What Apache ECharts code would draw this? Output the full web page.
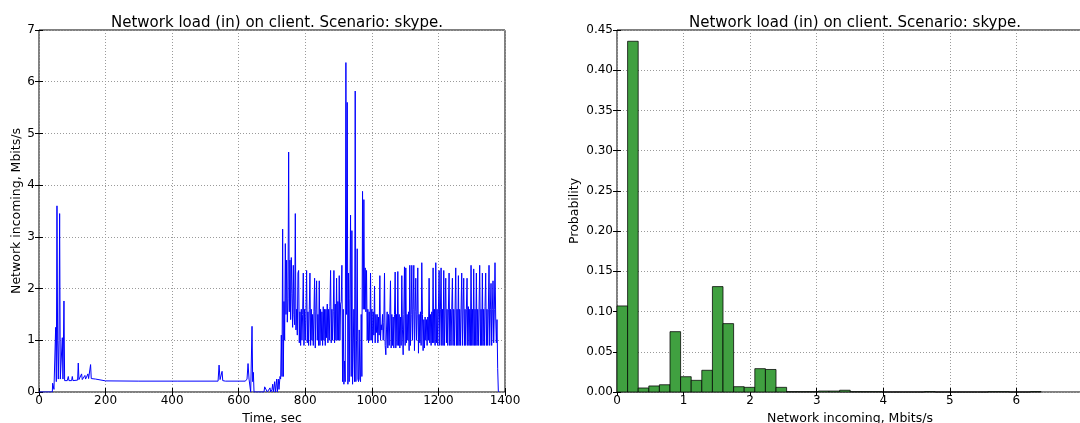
<!DOCTYPE html>
<html>
<head>
<meta charset="utf-8">
<script src="https://cdn.jsdelivr.net/npm/echarts@6/dist/echarts.min.js"></script>
<style>
html,body{margin:0;padding:0;background:#fff;}
#chart{width:1080px;height:423px;}
</style>
</head>
<body>
<div id="chart"></div>
<script>
// ---------- DATA ----------
const chartTitle = 'Network load (in) on client. Scenario: skype.';

// Time series, early (irregular) samples: [sec, Mbits/s]
const earlySamples = [
  [0,0],[40,0],[41,0.17],[44,0.17],[45,0.05],[49,0.05],[50,1.25],[52,0.2],[54,3.6],[56,1.0],
  [58,0.25],[60,1.0],[62,3.45],[64,0.25],[66,0.22],[68,0.22],[70,1.05],[72,0.25],[75,1.76],[77,0.22],
  [85,0.22],[88,0.3],[90,0.22],[98,0.22],[100,0.3],[102,0.22],[116,0.23],[118,0.56],[120,0.24],[126,0.24],
  [128,0.35],[130,0.24],[136,0.25],[138,0.32],[140,0.25],[145,0.26],[147,0.35],[149,0.26],[153,0.27],[155,0.53],
  [157,0.26],[170,0.25],[200,0.215],[300,0.21],[415,0.21],[416,0.23],[417,0.21],[538,0.21],[541,0.52],[544,0.24],
  [548,0.22],[550,0.4],[552,0.22],[560,0.21],[620,0.21],[625,0.25],[628,0.55],[631,0.25],[634,0.22],[636,0.0],
  [638,0.0],[640,1.27],[642,0.2],[644,0.38],[646,0.0],[676,0.0],[678,0.1],[683,0.12],[686,0.0],[692,0.0],
  [694,0.08],[696,0.0],[700,0.05],[702,0.15],[704,0.0],[708,0.2],[710,0.0],[714,0.25],[716,0.0],[719,0.25],
  [721,0.05],[724,0.3],[726,0.25],[728,1.1],[730,0.3],[732,3.15],[734,0.3],[736,1.75],[738,1.0]
];

// Time series, dense part: regular samples starting at denseStartSec, every denseStepSec
const denseStartSec = 740;
const denseStepSec = 2;
const denseMbits = [
  2.87,1.5,2.55,1.35,1.8,4.64,1.55,2.55,1.4,2.6,     1.9,1.25,2.45,1.5,1.3,3.45,1.2,1.6,1.1,2.3,
  2.35,0.95,1.55,0.9,1.6,1.0,1.5,2.3,0.9,1.6,        1.0,1.55,2.35,0.95,1.55,0.9,1.6,2.3,0.9,1.6,
  1.0,1.5,0.9,1.55,2.2,0.85,1.6,2.15,1.0,1.5,        0.9,2.15,0.9,1.6,1.0,1.55,0.9,1.65,1.0,1.6,
  0.9,1.6,1.05,1.7,0.95,1.6,1.0,1.65,2.35,0.95,      1.6,1.0,1.55,2.35,0.95,1.7,1.0,2.2,1.0,1.75,
  1.0,2.25,1.0,1.7,1.75,2.45,0.2,1.6,0.15,0.6,       0.2,6.37,1.5,5.6,0.15,2.3,0.2,1.8,3.42,0.3,
  3.12,0.15,0.12,1.6,0.2,5.82,0.2,1.0,2.77,0.25,     0.2,1.2,0.25,0.2,1.5,0.3,3.88,1.6,3.72,1.6,
  2.4,1.55,2.35,1.0,1.6,0.95,1.55,1.0,2.3,1.0,       1.6,0.95,1.55,1.1,2.05,0.95,1.5,1.15,1.5,0.95,
  1.45,1.1,2.25,1.0,1.3,1.2,1.5,1.0,1.35,2.3,        0.9,0.72,1.2,1.55,0.85,1.5,0.9,1.5,2.15,0.85,
  1.5,0.9,1.45,0.85,1.5,2.32,0.85,1.5,0.9,2.33,      0.9,1.5,0.85,1.45,0.9,2.25,1.2,0.72,1.5,2.42,
  0.9,2.4,0.95,1.5,1.0,1.55,0.8,2.45,0.9,1.5,        2.45,1.0,1.6,2.45,0.8,1.55,2.2,1.0,1.5,2.4,
  0.75,1.5,0.95,1.55,0.9,2.5,1.5,0.8,1.4,0.85,       1.45,1.0,1.4,0.9,1.45,1.0,2.2,0.95,1.5,0.9,
  1.55,0.95,2.4,0.95,1.6,0.9,2.5,0.95,1.6,0.9,       1.6,2.35,0.9,1.6,2.4,0.9,1.6,0.9,2.35,0.9,
  1.6,2.2,0.95,1.6,0.9,1.6,2.3,0.9,1.6,0.9,          1.6,2.2,0.9,1.6,0.9,1.6,2.4,0.9,1.6,0.9,
  2.25,0.9,1.6,0.9,1.6,2.3,0.9,1.6,2.2,0.9,          1.6,0.9,1.6,2.2,0.9,1.65,0.9,1.6,0.9,2.45,
  0.9,1.6,0.9,2.38,0.9,1.6,0.9,2.3,0.9,1.6,          0.9,1.6,2.45,0.9,1.6,0.9,2.3,0.9,1.6,0.9,
  1.65,2.3,0.9,1.6,0.9,1.6,2.45,0.9,1.6,2.1,         0.9,1.6,2.15,0.95,1.6,2.5,1.45,0.95,1.4,0.45
];
// Tail samples after the dense block
const tailSamples = [[1380,0.02],[1382,0.0]];

// Histogram (probability per bin), 40 bins over 0 .. 6.37 Mbits/s
const histBinWidth = 0.15925;
const histProbability = [
  0.107,0.436,0.005,0.0075,0.009,0.075,0.019,0.0145,0.027,0.131,
  0.085,0.0066,0.0058,0.029,0.028,0.0058,0.0004,0.0004,0.0004,0.0012,
  0.0012,0.0022,0.0004,0.0004,0.0004,0,0,0,0,0.0005,
  0,0,0,0,0,0.0004,0.0004,0,0,0.0005
];

// ---------- BUILD ----------
const lineData = earlySamples.slice();
denseMbits.forEach((v, i) => lineData.push([denseStartSec + i * denseStepSec, v]));
tailSamples.forEach(p => lineData.push(p));

const histData = histProbability.map((p, i) => [i * histBinWidth, (i + 1) * histBinWidth, p]);

const FONT = 'DejaVu Sans';
const gridLine = { show: true, lineStyle: { color: '#9a9a9a', type: [1, 2], width: 1 } };
function baseAxis(extra) {
  return Object.assign({
    axisLine: { show: false },
    axisTick: { show: true, inside: true, length: 4, lineStyle: { color: '#000' } },
    splitLine: gridLine,
    nameTextStyle: { color: '#000', fontFamily: FONT, fontSize: 12.5 }
  }, extra);
}
function lbl(extra) {
  return Object.assign({ color: '#000', fontFamily: FONT, fontSize: 12, margin: 4,
    formatter: v => String(v) }, extra);
}
function mirrorAxis(extra) {
  return Object.assign({
    axisLine: { show: false },
    axisTick: { show: true, inside: true, length: 4, lineStyle: { color: '#000' } },
    axisLabel: { show: false },
    splitLine: { show: false }
  }, extra);
}

const chart = echarts.init(document.getElementById('chart'), null, { renderer: 'canvas' });
chart.setOption({
  animation: false,
  backgroundColor: '#fff',
  title: [
    { text: chartTitle, left: 272, top: 11, textAlign: 'center',
      textStyle: { fontFamily: FONT, fontSize: 15, fontWeight: 'normal', color: '#000' } },
    { text: chartTitle, left: 850, top: 11, textAlign: 'center',
      textStyle: { fontFamily: FONT, fontSize: 15, fontWeight: 'normal', color: '#000' } }
  ],
  grid: [
    { left: 39, top: 30, width: 466, height: 362, show: true, borderColor: '#000', borderWidth: 1,
      backgroundColor: 'transparent', containLabel: false, outerBoundsMode: 'none' },
    { left: 617, top: 30, width: 466, height: 362, show: true, borderColor: '#000', borderWidth: 1,
      backgroundColor: 'transparent', containLabel: false, outerBoundsMode: 'none' }
  ],
  xAxis: [
    baseAxis({ type: 'value', gridIndex: 0, min: 0, max: 1400, interval: 200, position: 'bottom',
      name: 'Time, sec', nameLocation: 'middle', nameGap: 17, axisLabel: lbl({ margin: 3 }) }),
    baseAxis({ type: 'value', gridIndex: 1, min: 0, max: 7, interval: 1, position: 'bottom',
      name: 'Network incoming, Mbits/s', nameLocation: 'middle', nameGap: 17,
      axisLabel: lbl({ margin: 3, showMaxLabel: false }) }),
    mirrorAxis({ type: 'value', gridIndex: 0, min: 0, max: 1400, interval: 200, position: 'top' }),
    mirrorAxis({ type: 'value', gridIndex: 1, min: 0, max: 7, interval: 1, position: 'top' })
  ],
  yAxis: [
    baseAxis({ type: 'value', gridIndex: 0, min: 0, max: 7, interval: 1, position: 'left',
      name: 'Network incoming, Mbits/s', nameLocation: 'middle', nameGap: 15, axisLabel: lbl({}) }),
    baseAxis({ type: 'value', gridIndex: 1, min: 0, max: 0.45, interval: 0.05, position: 'left',
      name: 'Probability', nameLocation: 'middle', nameGap: 36,
      axisLabel: lbl({ formatter: v => v.toFixed(2) }) }),
    mirrorAxis({ type: 'value', gridIndex: 0, min: 0, max: 7, interval: 1, position: 'right' }),
    mirrorAxis({ type: 'value', gridIndex: 1, min: 0, max: 0.45, interval: 0.05, position: 'right' })
  ],
  series: [
    {
      type: 'line', xAxisIndex: 0, yAxisIndex: 0, data: lineData,
      showSymbol: false, symbol: 'none', sampling: null,
      lineStyle: { color: '#0000ff', width: 1 }, z: 5, clip: true
    },
    {
      type: 'custom', xAxisIndex: 1, yAxisIndex: 1, data: histData,
      encode: { x: [0, 1], y: 2 },
      renderItem: function (params, api) {
        const top = api.coord([api.value(0), api.value(2)]);
        const base = api.coord([api.value(1), 0]);
        return {
          type: 'rect',
          shape: { x: top[0], y: top[1], width: base[0] - top[0], height: base[1] - top[1] },
          style: { fill: '#40a040', stroke: 'rgba(0,0,0,0.75)', lineWidth: 1 }
        };
      },
      z: 5
    }
  ]
});
</script>
</body>
</html>
